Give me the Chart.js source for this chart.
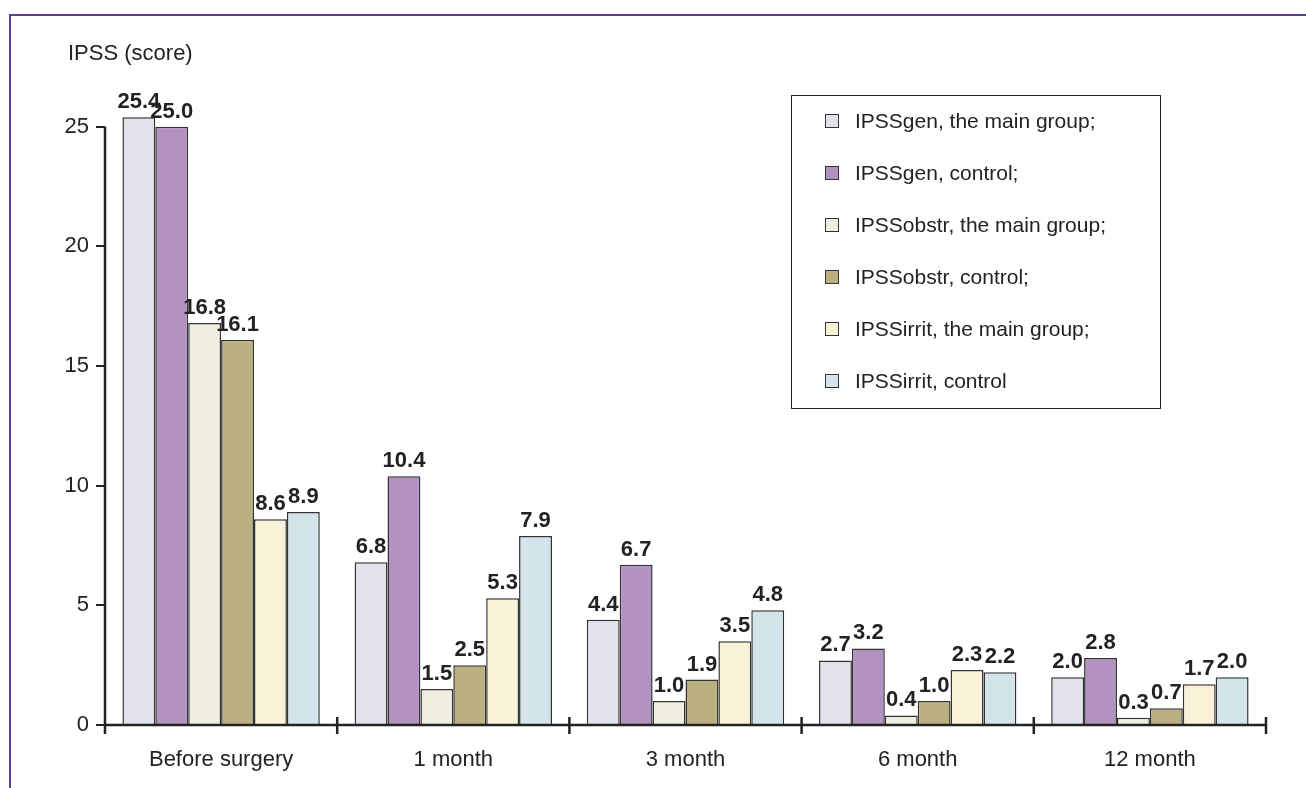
<!DOCTYPE html>
<html>
<head>
<meta charset="utf-8">
<script src="https://cdn.jsdelivr.net/npm/chart.js@4/dist/chart.umd.min.js"></script>
<style>
  body { margin: 0; background: #fff; font-family: "Liberation Sans", Arial, sans-serif; }
  #wrap { position: relative; width: 1306px; height: 788px; overflow: hidden; }
  #moldura { position: absolute; left: 9px; top: 14px; width: 1400px; height: 800px;
    border-top: 2px solid #5b3f9c; border-left: 2px solid #5b3f9c; }
  #titulo { position: absolute; left: 68px; top: 40px; font-size: 22px; color: #222; }
  #legenda { position: absolute; left: 791px; top: 95px; width: 368px; height: 312px;
    border: 1.5px solid #222; background: #fff; }
  .item { position: absolute; left: 33px; font-size: 21px; color: #222; white-space: nowrap; }
  .item span.cor { display: inline-block; width: 12px; height: 12px; border: 1.5px solid #333;
    margin-right: 16px; vertical-align: 0px; }
</style>
</head>
<body>
<div id="wrap">
  <div id="moldura"></div>
  <canvas id="grafico" width="1306" height="788"></canvas>
  <div id="titulo">IPSS (score)</div>
  <div id="legenda"></div>
</div>
<script>
const categorias = ["Before surgery", "1 month", "3 month", "6 month", "12 month"];

const genPrincipal = [25.4, 6.8, 4.4, 2.7, 2.0];
const genControle = [25.0, 10.4, 6.7, 3.2, 2.8];
const obstrPrincipal = [16.8, 1.5, 1.0, 0.4, 0.3];
const obstrControle = [16.1, 2.5, 1.9, 1.0, 0.7];
const irritPrincipal = [8.6, 5.3, 3.5, 2.3, 1.7];
const irritControle = [8.9, 7.9, 4.8, 2.2, 2.0];

const series = [
  { label: "IPSSgen, the main group;", data: genPrincipal, cor: "#e3e2ea" },
  { label: "IPSSgen, control;", data: genControle, cor: "#b292c0" },
  { label: "IPSSobstr, the main group;", data: obstrPrincipal, cor: "#efede0" },
  { label: "IPSSobstr, control;", data: obstrControle, cor: "#bbb07f" },
  { label: "IPSSirrit, the main group;", data: irritPrincipal, cor: "#f8f3d8" },
  { label: "IPSSirrit, control", data: irritControle, cor: "#d3e5ea" }
];

const fonte = "'Liberation Sans', Arial, sans-serif";

// eixos desenhados a mao, a partir das escalas
const eixos = {
  id: "eixos",
  afterDraw(chart) {
    const ctx = chart.ctx;
    const x = chart.scales.x;
    const y = chart.scales.y;
    const y0 = y.getPixelForValue(0);
    ctx.save();
    ctx.strokeStyle = "#222";
    ctx.lineWidth = 2.5;
    ctx.beginPath();
    ctx.moveTo(x.left, y0);
    ctx.lineTo(x.left, y.getPixelForValue(25));
    ctx.moveTo(x.left, y0);
    ctx.lineTo(x.right, y0);
    const passo = (x.right - x.left) / categorias.length;
    for (let i = 0; i <= categorias.length; i++) {
      const px = x.left + i * passo;
      ctx.moveTo(px, y0 - 8);
      ctx.lineTo(px, y0 + 9);
    }
    ctx.stroke();
    ctx.restore();
  }
};

const rotulos = {
  id: "rotulos",
  afterDatasetsDraw(chart) {
    const ctx = chart.ctx;
    ctx.save();
    ctx.font = "bold 22px " + fonte;
    ctx.fillStyle = "#222";
    ctx.textAlign = "center";
    ctx.textBaseline = "alphabetic";
    chart.data.datasets.forEach((ds, i) => {
      chart.getDatasetMeta(i).data.forEach((bar, j) => {
        ctx.fillText(ds.data[j].toFixed(1), bar.x, bar.y - 9);
      });
    });
    ctx.restore();
  }
};

function criarLegenda() {
  const box = document.querySelector("#legenda");
  series.forEach((s, i) => {
    const div = document.createElement("div");
    div.className = "item";
    div.style.top = (13 + i * 52) + "px";
    div.innerHTML = `<span class="cor" style="background:${s.cor}"></span>${s.label}`;
    box.appendChild(div);
  });
}

function criarGrafico() {
  const ctx = document.getElementById("grafico").getContext("2d");
  new Chart(ctx, {
    type: "bar",
    data: {
      labels: categorias,
      datasets: series.map(s => ({
        label: s.label,
        data: s.data,
        backgroundColor: s.cor,
        borderColor: "#333",
        borderWidth: 1.5,
        borderSkipped: "bottom",
        categoryPercentage: 0.85,
        barPercentage: 1,
        clip: false
      }))
    },
    options: {
      responsive: false,
      animation: false,
      layout: { padding: { left: 0, right: 40, top: 55, bottom: 0 } },
      plugins: { legend: { display: false }, tooltip: { enabled: false } },
      scales: {
        x: {
          grid: { display: false },
          border: { display: false },
          ticks: { color: "#222", font: { size: 22, family: fonte }, padding: 14 },
          afterFit(scale) { scale.height = 63; }
        },
        y: {
          min: 0,
          max: 28,
          grid: { drawOnChartArea: false, drawTicks: true, tickLength: 9, color: "#222", lineWidth: 2 },
          border: { display: false },
          ticks: { stepSize: 5, includeBounds: false, color: "#222", font: { size: 22, family: fonte }, padding: 7 },
          afterFit(scale) { scale.width = 105; }
        }
      }
    },
    plugins: [eixos, rotulos]
  });
}

criarLegenda();
criarGrafico();
</script>
</body>
</html>
